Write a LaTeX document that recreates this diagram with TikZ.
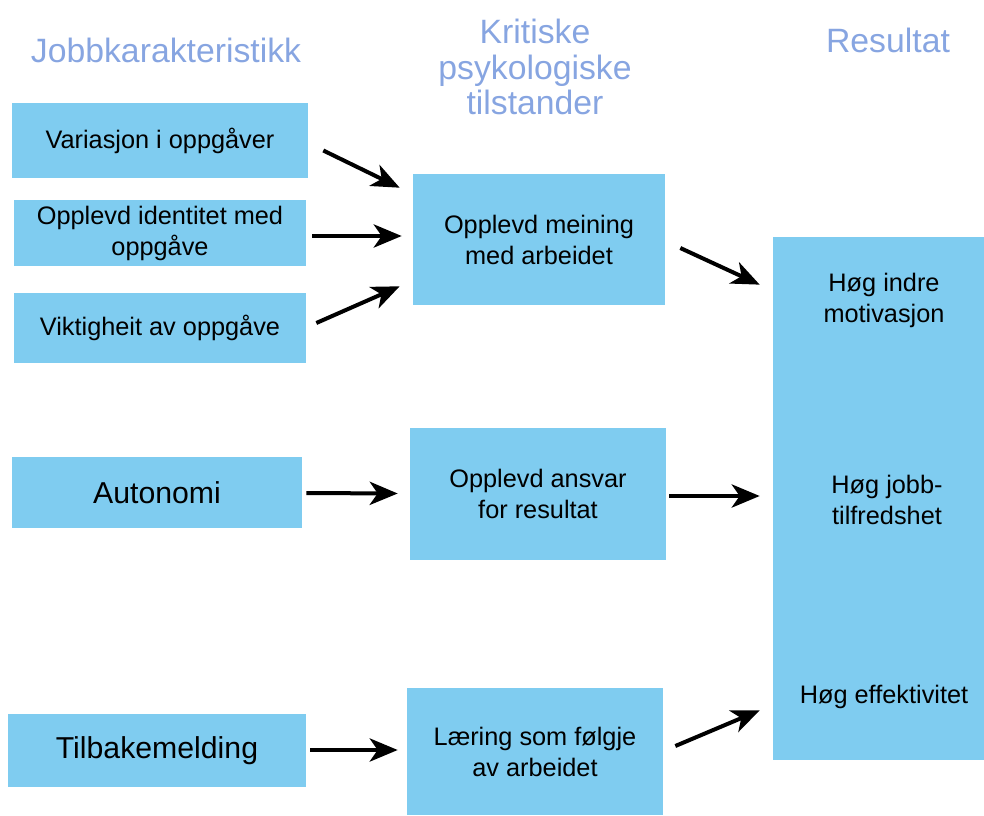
\documentclass[tikz,border=0pt]{standalone}
\usepackage{fontspec}
\setmainfont{Liberation Sans}
\usetikzlibrary{arrows.meta}
\definecolor{boxblue}{RGB}{127,204,240}
\definecolor{headblue}{RGB}{135,165,225}
\newcommand{\bodysize}{\fontsize{18}{22}\selectfont}
\newcommand{\bigsize}{\fontsize{21.5}{25}\selectfont}
\newcommand{\headsize}{\fontsize{24}{25.5}\selectfont}

\begin{document}
\begin{tikzpicture}[
    x = 0.025cm, y = -0.025cm,
    >={Stealth[length = 0.7cm, width = 0.58cm, inset = 0.2cm]},
    box/.style = {fill = boxblue, inner sep = 0cm, align = center, font = \bodysize},
    head/.style = {text = headblue, align = center, font = \headsize},
    res/.style = {align = center, font = \bodysize},
    arrow/.style = {->, line width = 0.1cm},
    ]
    \useasboundingbox (0,0) rectangle (984,815);

    % headers
    \node[head] (H1) at (166,50) {Jobbkarakteristikk};
    \node[head] (H2) at (535,67) {Kritiske\\psykologiske\\tilstander};
    \node[head] (H3) at (888,40) {Resultat};

    % job characteristics
    \node[box, minimum width = 7.4cm, minimum height = 1.875cm] (V1) at (160,140.5) {Variasjon i oppgåver};
    \node[box, minimum width = 7.3cm, minimum height = 1.65cm] (V2) at (160,233) {Opplevd identitet med\\oppgåve};
    \node[box, minimum width = 7.3cm, minimum height = 1.75cm] (V3) at (160,328) {Viktigheit av oppgåve};
    \node[box, font = \bigsize, minimum width = 7.25cm, minimum height = 1.775cm] (A) at (157,492.5) {Autonomi};
    \node[box, font = \bigsize, minimum width = 7.45cm, minimum height = 1.825cm] (T) at (157,750.5) {Tilbakemelding};

    % critical states
    \node[box, minimum width = 6.3cm, minimum height = 3.275cm] (M1) at (539,239.5) {Opplevd meining\\med arbeidet};
    \node[box, minimum width = 6.4cm, minimum height = 3.3cm] (M2) at (538,494) {Opplevd ansvar\\for resultat};
    \node[box, minimum width = 6.4cm, minimum height = 3.175cm] (M3) at (535,751.5) {Læring som følgje\\av arbeidet};

    % results
    \node[box, minimum width = 5.275cm, minimum height = 13.075cm] (R) at (878.5,498.5) {};
    \node[res] (R1) at (884,300) {Høg indre\\motivasjon};
    \node[res] (R2) at (887,500) {Høg jobb-\\tilfredshet};
    \node[res] (R3) at (884,697) {Høg effektivitet};

    \draw[arrow] ([shift = {(15,10)}]V1.east) -- ([shift = {(-13,14)}]M1.north west);
    \draw[arrow] ([shift = {(6,3)}]V2.east) -- ([shift = {(-11,-3.5)}]M1.west);
    \draw[arrow] ([shift = {(10,-5)}]V3.east) -- ([shift = {(-13,-19)}]M1.south west);
    \draw[arrow] ([shift = {(15,8.5)}]M1.east) -- ([shift = {(-13,48)}]R.north west);
    \draw[arrow] ([shift = {(4,0.5)}]A.east) -- ([shift = {(-12,-0.5)}]M2.west);
    \draw[arrow] ([shift = {(3,2)}]M2.east) -- ([shift = {(-13,-2.5)}]R.west);
    \draw[arrow] ([shift = {(4,-0.5)}]T.east) -- ([shift = {(-9,-1.5)}]M3.west);
    \draw[arrow] ([shift = {(12,-5.5)}]M3.east) -- ([shift = {(-13,-50)}]R.south west);
\end{tikzpicture}
\end{document}
